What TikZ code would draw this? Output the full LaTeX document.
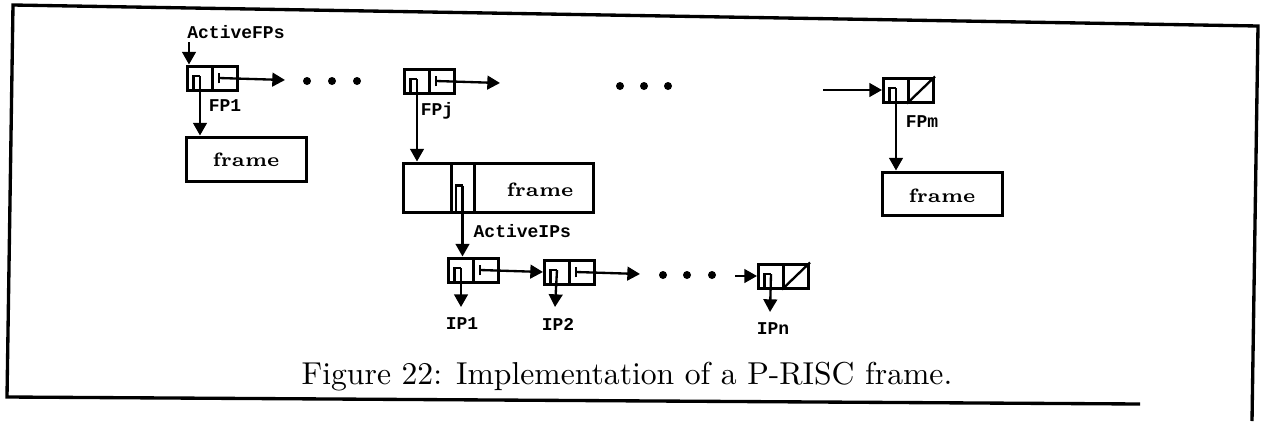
\documentclass[tikz,border=0pt]{standalone}
\usepackage{fontspec}
\newfontfamily\lblfont{Liberation Mono}
\usetikzlibrary{arrows.meta}
\tikzset{
  half/.style={draw, line width=0.9pt, minimum width=7.5pt, minimum height=7.2pt, inner sep=0pt},
  framebox/.style={draw, line width=0.9pt, minimum height=13.2pt, inner sep=0pt},
  ptr/.style={line width=0.7pt, -{Triangle[length=3.8pt,width=4.1pt]}},
  lnk/.style={line width=0.7pt},
  lbl/.style={font=\lblfont\bfseries\fontsize{5.4}{6}\selectfont, inner sep=0pt},
  ftxt/.style={font=\bfseries\fontsize{5.8}{7}\selectfont, inner sep=0pt},
  dotn/.style={circle, fill, inner sep=0pt, minimum size=2.4pt},
  border/.style={line width=1pt},
}
\begin{document}
\begin{tikzpicture}[x=0.3pt,y=-0.3pt]
\useasboundingbox (0,0) rectangle (1261,421);
% page border (slightly rotated scan)
\draw[border] (1140,404) -- (7,397) -- (13,5) -- (1258,26) -- (1252,421);

% ---- frame-pointer cells
\node[half] (fp1l) at (200,78) {};
\node[half] (fp1r) at (225,78) {};
\node[half] (fpjl) at (417,81) {};
\node[half] (fpjr) at (442,81) {};
\node[half] (fpml) at (896,90) {};
\node[half] (fpmr) at (921,90) {};
\draw[lnk] (fpmr.south west) -- (fpmr.north east);

% ---- frames
\node[framebox, minimum width=36pt] (fr1) at (246,159) {};
\node[ftxt] (fr1t) at (246,160) {frame};
\node[framebox, minimum width=14.4pt, minimum height=14.7pt] (f2a) at (427,187.5) {};
\node[framebox, minimum width=6.9pt, minimum height=14.7pt] (f2b) at (462.5,187.5) {};
\node[framebox, minimum width=35.7pt, minimum height=14.7pt] (f2c) at (533.5,187.5) {};
\node[ftxt] (fr2t) at (540,190) {frame};
\node[framebox, minimum width=36pt, minimum height=12.9pt] (fr3) at (942,193.5) {};
\node[ftxt] (fr3t) at (942,196) {frame};

% ---- IP cells
\node[half] (ip1l) at (461,270) {};
\node[half] (ip1r) at (486,270) {};
\node[half] (ip2l) at (557,272) {};
\node[half] (ip2r) at (582,272) {};
\node[half] (ipnl) at (771,276) {};
\node[half] (ipnr) at (796,276) {};
\draw[lnk] (ipnr.south west) -- (ipnr.north east);

% ---- labels
\node[lbl, anchor=base] (lafp) at (236,38) {ActiveFPs};
\node[lbl, anchor=base] (lfp1) at (225,111) {FP1};
\node[lbl, anchor=base] (lfpj) at (437,115) {FPj};
\node[lbl, anchor=base] (lfpm) at (922,127) {FPm};
\node[lbl, anchor=base west] (laip) at (473,237) {ActiveIPs};
\node[lbl, anchor=base] (lip1) at (462,329) {IP1};
\node[lbl, anchor=base] (lip2) at (558,330) {IP2};
\node[lbl, anchor=base] (lipn) at (773,334) {IPn};

% ---- dots
\node[dotn] (d1) at (307,81) {};
\node[dotn] (d2) at (332,81) {};
\node[dotn] (d3) at (357,81) {};
\node[dotn] (d4) at (620,86) {};
\node[dotn] (d5) at (644,86) {};
\node[dotn] (d6) at (668,86) {};
\node[dotn] (d7) at (663,275) {};
\node[dotn] (d8) at (687,275) {};
\node[dotn] (d9) at (712,275) {};

% ---- free ends
\coordinate (s0) at (189,42);
\coordinate (e1) at (285,80);
\coordinate (e2) at (500,83);
\coordinate (s3) at (823,90);
\coordinate (e4) at (640,274);
\coordinate (s5) at (735,276);
\coordinate (ip1e) at (461,307);
\coordinate (ip2e) at (555,307);
\coordinate (ipne) at (770,312);

% ---- "n" marks (pointer origins in left cells)
\foreach \c in {fp1l,fpjl,fpml,ip1l,ip2l,ipnl,f2b}{
  \draw[lnk] ([xshift=-2pt]\c.south) -- ([xshift=-2pt,yshift=0.6pt]\c.center) -- ([yshift=0.6pt]\c.center);
}
% ---- ticks at origins of next-pointers
\foreach \c in {fp1r,fpjr,ip1r,ip2r}{
  \draw[lnk] ([xshift=-1.8pt,yshift=-1.6pt]\c.center) -- ([xshift=-1.8pt,yshift=1.6pt]\c.center);
}

% ---- connectors
\draw[ptr] (s0) -- (s0 |- fp1l.north);
\draw[ptr] ([xshift=-1.8pt]fp1r.center) -- (e1);
\draw[ptr] ([yshift=0.6pt]fp1l.center) -- (fp1l.center |- fr1.north);
\draw[ptr] ([xshift=-1.8pt]fpjr.center) -- (e2);
\draw[ptr] ([yshift=0.6pt]fpjl.center) -- (fpjl.center |- f2a.north);
\draw[ptr] (s3) -- (fpml.west);
\draw[ptr] ([yshift=0.6pt]fpml.center) -- (fpml.center |- fr3.north);
\draw[ptr] ([yshift=0.6pt]f2b.center) -- (f2b.center |- ip1l.north);
\draw[ptr] ([xshift=-1.8pt]ip1r.center) -- (ip2l.west);
\draw[ptr] ([xshift=-1.8pt]ip2r.center) -- (e4);
\draw[ptr] (s5) -- (ipnl.west);
\draw[ptr] ([yshift=0.6pt]ip1l.center) -- (ip1e);
\draw[ptr] ([yshift=0.6pt]ip2l.center) -- (ip2e);
\draw[ptr] ([yshift=0.6pt]ipnl.center) -- (ipne);

% ---- caption
\node[font=\fontsize{9.5}{11}\selectfont, anchor=base, inner sep=0pt] (cap) at (627,384) {Figure 22: Implementation of a P-RISC frame.};
\end{tikzpicture}
\end{document}
